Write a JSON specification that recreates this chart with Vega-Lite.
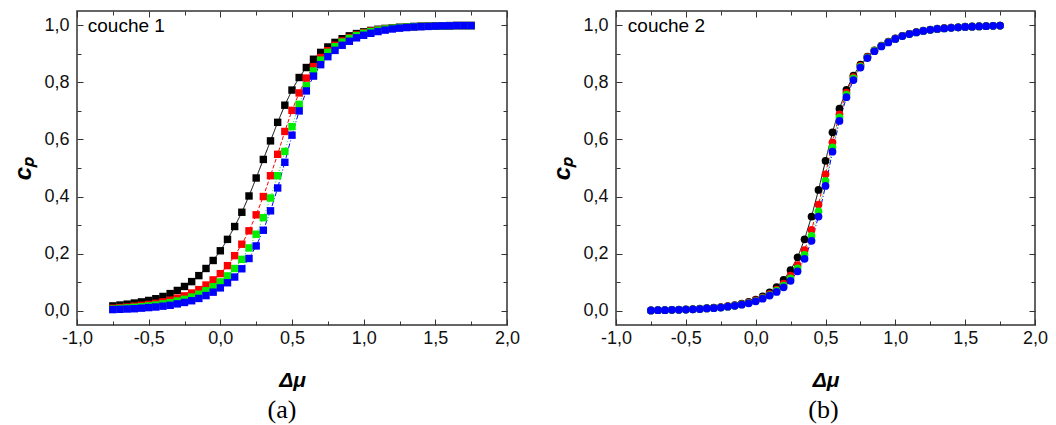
{
  "$schema": "https://vega.github.io/schema/vega-lite/v6.json",
  "background": "white",
  "padding": {"left": 11, "top": 9, "right": 5, "bottom": 0},
  "spacing": 29,
  "config": {
    "view": {"stroke": "#333333", "strokeWidth": 1.5},
    "axis": {"grid": false, "domain": false, "tickColor": "#333333", "tickWidth": 1, "labelFont": "Liberation Sans, Arial, sans-serif", "labelFontSize": 18, "labelColor": "#111111", "labelFlush": false, "labelOverlap": false, "titleColor": "#000000"}
  },
  "data": {"values": [
{"p":"a","s":"k","x":-0.75,"y":0.017},{"p":"a","s":"k","x":-0.7,"y":0.020},{"p":"a","s":"k","x":-0.65,"y":0.023},{"p":"a","s":"k","x":-0.6,"y":0.027},{"p":"a","s":"k","x":-0.55,"y":0.031},{"p":"a","s":"k","x":-0.5,"y":0.036},{"p":"a","s":"k","x":-0.45,"y":0.042},{"p":"a","s":"k","x":-0.4,"y":0.050},{"p":"a","s":"k","x":-0.35,"y":0.060},{"p":"a","s":"k","x":-0.3,"y":0.071},{"p":"a","s":"k","x":-0.25,"y":0.085},{"p":"a","s":"k","x":-0.2,"y":0.102},{"p":"a","s":"k","x":-0.15,"y":0.123},{"p":"a","s":"k","x":-0.1,"y":0.148},{"p":"a","s":"k","x":-0.05,"y":0.176},{"p":"a","s":"k","x":0,"y":0.210},{"p":"a","s":"k","x":0.05,"y":0.250},{"p":"a","s":"k","x":0.1,"y":0.295},{"p":"a","s":"k","x":0.15,"y":0.345},{"p":"a","s":"k","x":0.2,"y":0.402},{"p":"a","s":"k","x":0.25,"y":0.465},{"p":"a","s":"k","x":0.3,"y":0.530},{"p":"a","s":"k","x":0.35,"y":0.595},{"p":"a","s":"k","x":0.4,"y":0.660},{"p":"a","s":"k","x":0.45,"y":0.720},{"p":"a","s":"k","x":0.5,"y":0.773},{"p":"a","s":"k","x":0.55,"y":0.817},{"p":"a","s":"k","x":0.6,"y":0.852},{"p":"a","s":"k","x":0.65,"y":0.881},{"p":"a","s":"k","x":0.7,"y":0.905},{"p":"a","s":"k","x":0.75,"y":0.924},{"p":"a","s":"k","x":0.8,"y":0.940},{"p":"a","s":"k","x":0.85,"y":0.953},{"p":"a","s":"k","x":0.9,"y":0.963},{"p":"a","s":"k","x":0.95,"y":0.971},{"p":"a","s":"k","x":1,"y":0.977},{"p":"a","s":"k","x":1.05,"y":0.982},{"p":"a","s":"k","x":1.1,"y":0.986},{"p":"a","s":"k","x":1.15,"y":0.989},{"p":"a","s":"k","x":1.2,"y":0.991},{"p":"a","s":"k","x":1.25,"y":0.993},{"p":"a","s":"k","x":1.3,"y":0.995},{"p":"a","s":"k","x":1.35,"y":0.996},{"p":"a","s":"k","x":1.4,"y":0.997},{"p":"a","s":"k","x":1.45,"y":0.997},{"p":"a","s":"k","x":1.5,"y":0.998},{"p":"a","s":"k","x":1.55,"y":0.998},{"p":"a","s":"k","x":1.6,"y":0.999},{"p":"a","s":"k","x":1.65,"y":0.999},{"p":"a","s":"k","x":1.7,"y":0.999},{"p":"a","s":"k","x":1.75,"y":0.999},
{"p":"a","s":"r","x":-0.75,"y":0.009},{"p":"a","s":"r","x":-0.7,"y":0.011},{"p":"a","s":"r","x":-0.65,"y":0.013},{"p":"a","s":"r","x":-0.6,"y":0.016},{"p":"a","s":"r","x":-0.55,"y":0.019},{"p":"a","s":"r","x":-0.5,"y":0.022},{"p":"a","s":"r","x":-0.45,"y":0.026},{"p":"a","s":"r","x":-0.4,"y":0.031},{"p":"a","s":"r","x":-0.35,"y":0.037},{"p":"a","s":"r","x":-0.3,"y":0.044},{"p":"a","s":"r","x":-0.25,"y":0.052},{"p":"a","s":"r","x":-0.2,"y":0.062},{"p":"a","s":"r","x":-0.15,"y":0.074},{"p":"a","s":"r","x":-0.1,"y":0.090},{"p":"a","s":"r","x":-0.05,"y":0.108},{"p":"a","s":"r","x":0,"y":0.130},{"p":"a","s":"r","x":0.05,"y":0.158},{"p":"a","s":"r","x":0.1,"y":0.193},{"p":"a","s":"r","x":0.15,"y":0.233},{"p":"a","s":"r","x":0.2,"y":0.280},{"p":"a","s":"r","x":0.25,"y":0.336},{"p":"a","s":"r","x":0.3,"y":0.400},{"p":"a","s":"r","x":0.35,"y":0.473},{"p":"a","s":"r","x":0.4,"y":0.548},{"p":"a","s":"r","x":0.45,"y":0.628},{"p":"a","s":"r","x":0.5,"y":0.702},{"p":"a","s":"r","x":0.55,"y":0.763},{"p":"a","s":"r","x":0.6,"y":0.815},{"p":"a","s":"r","x":0.65,"y":0.855},{"p":"a","s":"r","x":0.7,"y":0.887},{"p":"a","s":"r","x":0.75,"y":0.911},{"p":"a","s":"r","x":0.8,"y":0.930},{"p":"a","s":"r","x":0.85,"y":0.945},{"p":"a","s":"r","x":0.9,"y":0.957},{"p":"a","s":"r","x":0.95,"y":0.966},{"p":"a","s":"r","x":1,"y":0.974},{"p":"a","s":"r","x":1.05,"y":0.980},{"p":"a","s":"r","x":1.1,"y":0.984},{"p":"a","s":"r","x":1.15,"y":0.988},{"p":"a","s":"r","x":1.2,"y":0.990},{"p":"a","s":"r","x":1.25,"y":0.992},{"p":"a","s":"r","x":1.3,"y":0.994},{"p":"a","s":"r","x":1.35,"y":0.995},{"p":"a","s":"r","x":1.4,"y":0.996},{"p":"a","s":"r","x":1.45,"y":0.997},{"p":"a","s":"r","x":1.5,"y":0.998},{"p":"a","s":"r","x":1.55,"y":0.998},{"p":"a","s":"r","x":1.6,"y":0.998},{"p":"a","s":"r","x":1.65,"y":0.999},{"p":"a","s":"r","x":1.7,"y":0.999},{"p":"a","s":"r","x":1.75,"y":0.999},
{"p":"a","s":"g","x":-0.75,"y":0.006},{"p":"a","s":"g","x":-0.7,"y":0.008},{"p":"a","s":"g","x":-0.65,"y":0.010},{"p":"a","s":"g","x":-0.6,"y":0.012},{"p":"a","s":"g","x":-0.55,"y":0.014},{"p":"a","s":"g","x":-0.5,"y":0.017},{"p":"a","s":"g","x":-0.45,"y":0.020},{"p":"a","s":"g","x":-0.4,"y":0.024},{"p":"a","s":"g","x":-0.35,"y":0.028},{"p":"a","s":"g","x":-0.3,"y":0.034},{"p":"a","s":"g","x":-0.25,"y":0.040},{"p":"a","s":"g","x":-0.2,"y":0.048},{"p":"a","s":"g","x":-0.15,"y":0.058},{"p":"a","s":"g","x":-0.1,"y":0.070},{"p":"a","s":"g","x":-0.05,"y":0.084},{"p":"a","s":"g","x":0,"y":0.101},{"p":"a","s":"g","x":0.05,"y":0.122},{"p":"a","s":"g","x":0.1,"y":0.148},{"p":"a","s":"g","x":0.15,"y":0.180},{"p":"a","s":"g","x":0.2,"y":0.220},{"p":"a","s":"g","x":0.25,"y":0.268},{"p":"a","s":"g","x":0.3,"y":0.326},{"p":"a","s":"g","x":0.35,"y":0.395},{"p":"a","s":"g","x":0.4,"y":0.473},{"p":"a","s":"g","x":0.45,"y":0.558},{"p":"a","s":"g","x":0.5,"y":0.645},{"p":"a","s":"g","x":0.55,"y":0.723},{"p":"a","s":"g","x":0.6,"y":0.788},{"p":"a","s":"g","x":0.65,"y":0.840},{"p":"a","s":"g","x":0.7,"y":0.878},{"p":"a","s":"g","x":0.75,"y":0.905},{"p":"a","s":"g","x":0.8,"y":0.925},{"p":"a","s":"g","x":0.85,"y":0.941},{"p":"a","s":"g","x":0.9,"y":0.954},{"p":"a","s":"g","x":0.95,"y":0.964},{"p":"a","s":"g","x":1,"y":0.972},{"p":"a","s":"g","x":1.05,"y":0.978},{"p":"a","s":"g","x":1.1,"y":0.983},{"p":"a","s":"g","x":1.15,"y":0.987},{"p":"a","s":"g","x":1.2,"y":0.990},{"p":"a","s":"g","x":1.25,"y":0.992},{"p":"a","s":"g","x":1.3,"y":0.994},{"p":"a","s":"g","x":1.35,"y":0.995},{"p":"a","s":"g","x":1.4,"y":0.996},{"p":"a","s":"g","x":1.45,"y":0.997},{"p":"a","s":"g","x":1.5,"y":0.997},{"p":"a","s":"g","x":1.55,"y":0.998},{"p":"a","s":"g","x":1.6,"y":0.998},{"p":"a","s":"g","x":1.65,"y":0.999},{"p":"a","s":"g","x":1.7,"y":0.999},{"p":"a","s":"g","x":1.75,"y":0.999},
{"p":"a","s":"b","x":-0.75,"y":0.004},{"p":"a","s":"b","x":-0.7,"y":0.005},{"p":"a","s":"b","x":-0.65,"y":0.006},{"p":"a","s":"b","x":-0.6,"y":0.007},{"p":"a","s":"b","x":-0.55,"y":0.009},{"p":"a","s":"b","x":-0.5,"y":0.011},{"p":"a","s":"b","x":-0.45,"y":0.013},{"p":"a","s":"b","x":-0.4,"y":0.016},{"p":"a","s":"b","x":-0.35,"y":0.019},{"p":"a","s":"b","x":-0.3,"y":0.024},{"p":"a","s":"b","x":-0.25,"y":0.029},{"p":"a","s":"b","x":-0.2,"y":0.035},{"p":"a","s":"b","x":-0.15,"y":0.043},{"p":"a","s":"b","x":-0.1,"y":0.053},{"p":"a","s":"b","x":-0.05,"y":0.065},{"p":"a","s":"b","x":0,"y":0.080},{"p":"a","s":"b","x":0.05,"y":0.098},{"p":"a","s":"b","x":0.1,"y":0.118},{"p":"a","s":"b","x":0.15,"y":0.147},{"p":"a","s":"b","x":0.2,"y":0.183},{"p":"a","s":"b","x":0.25,"y":0.227},{"p":"a","s":"b","x":0.3,"y":0.282},{"p":"a","s":"b","x":0.35,"y":0.350},{"p":"a","s":"b","x":0.4,"y":0.430},{"p":"a","s":"b","x":0.45,"y":0.520},{"p":"a","s":"b","x":0.5,"y":0.615},{"p":"a","s":"b","x":0.55,"y":0.700},{"p":"a","s":"b","x":0.6,"y":0.770},{"p":"a","s":"b","x":0.65,"y":0.822},{"p":"a","s":"b","x":0.7,"y":0.862},{"p":"a","s":"b","x":0.75,"y":0.890},{"p":"a","s":"b","x":0.8,"y":0.912},{"p":"a","s":"b","x":0.85,"y":0.930},{"p":"a","s":"b","x":0.9,"y":0.944},{"p":"a","s":"b","x":0.95,"y":0.956},{"p":"a","s":"b","x":1,"y":0.965},{"p":"a","s":"b","x":1.05,"y":0.972},{"p":"a","s":"b","x":1.1,"y":0.978},{"p":"a","s":"b","x":1.15,"y":0.983},{"p":"a","s":"b","x":1.2,"y":0.987},{"p":"a","s":"b","x":1.25,"y":0.990},{"p":"a","s":"b","x":1.3,"y":0.992},{"p":"a","s":"b","x":1.35,"y":0.994},{"p":"a","s":"b","x":1.4,"y":0.995},{"p":"a","s":"b","x":1.45,"y":0.996},{"p":"a","s":"b","x":1.5,"y":0.997},{"p":"a","s":"b","x":1.55,"y":0.998},{"p":"a","s":"b","x":1.6,"y":0.998},{"p":"a","s":"b","x":1.65,"y":0.999},{"p":"a","s":"b","x":1.7,"y":0.999},{"p":"a","s":"b","x":1.75,"y":0.999},
{"p":"b","s":"k","x":-0.75,"y":0.001},{"p":"b","s":"k","x":-0.7,"y":0.002},{"p":"b","s":"k","x":-0.65,"y":0.002},{"p":"b","s":"k","x":-0.6,"y":0.003},{"p":"b","s":"k","x":-0.55,"y":0.004},{"p":"b","s":"k","x":-0.5,"y":0.005},{"p":"b","s":"k","x":-0.45,"y":0.006},{"p":"b","s":"k","x":-0.4,"y":0.007},{"p":"b","s":"k","x":-0.35,"y":0.009},{"p":"b","s":"k","x":-0.3,"y":0.011},{"p":"b","s":"k","x":-0.25,"y":0.013},{"p":"b","s":"k","x":-0.2,"y":0.016},{"p":"b","s":"k","x":-0.15,"y":0.020},{"p":"b","s":"k","x":-0.1,"y":0.025},{"p":"b","s":"k","x":-0.05,"y":0.031},{"p":"b","s":"k","x":0,"y":0.039},{"p":"b","s":"k","x":0.05,"y":0.050},{"p":"b","s":"k","x":0.1,"y":0.064},{"p":"b","s":"k","x":0.15,"y":0.083},{"p":"b","s":"k","x":0.2,"y":0.108},{"p":"b","s":"k","x":0.25,"y":0.142},{"p":"b","s":"k","x":0.3,"y":0.187},{"p":"b","s":"k","x":0.35,"y":0.250},{"p":"b","s":"k","x":0.4,"y":0.330},{"p":"b","s":"k","x":0.45,"y":0.423},{"p":"b","s":"k","x":0.5,"y":0.525},{"p":"b","s":"k","x":0.55,"y":0.625},{"p":"b","s":"k","x":0.6,"y":0.708},{"p":"b","s":"k","x":0.65,"y":0.774},{"p":"b","s":"k","x":0.7,"y":0.824},{"p":"b","s":"k","x":0.75,"y":0.862},{"p":"b","s":"k","x":0.8,"y":0.890},{"p":"b","s":"k","x":0.85,"y":0.912},{"p":"b","s":"k","x":0.9,"y":0.929},{"p":"b","s":"k","x":0.95,"y":0.943},{"p":"b","s":"k","x":1,"y":0.954},{"p":"b","s":"k","x":1.05,"y":0.963},{"p":"b","s":"k","x":1.1,"y":0.970},{"p":"b","s":"k","x":1.15,"y":0.976},{"p":"b","s":"k","x":1.2,"y":0.981},{"p":"b","s":"k","x":1.25,"y":0.985},{"p":"b","s":"k","x":1.3,"y":0.988},{"p":"b","s":"k","x":1.35,"y":0.990},{"p":"b","s":"k","x":1.4,"y":0.992},{"p":"b","s":"k","x":1.45,"y":0.993},{"p":"b","s":"k","x":1.5,"y":0.995},{"p":"b","s":"k","x":1.55,"y":0.996},{"p":"b","s":"k","x":1.6,"y":0.997},{"p":"b","s":"k","x":1.65,"y":0.997},{"p":"b","s":"k","x":1.7,"y":0.998},{"p":"b","s":"k","x":1.75,"y":0.999},
{"p":"b","s":"r","x":-0.75,"y":0.001},{"p":"b","s":"r","x":-0.7,"y":0.002},{"p":"b","s":"r","x":-0.65,"y":0.002},{"p":"b","s":"r","x":-0.6,"y":0.003},{"p":"b","s":"r","x":-0.55,"y":0.003},{"p":"b","s":"r","x":-0.5,"y":0.004},{"p":"b","s":"r","x":-0.45,"y":0.005},{"p":"b","s":"r","x":-0.4,"y":0.006},{"p":"b","s":"r","x":-0.35,"y":0.008},{"p":"b","s":"r","x":-0.3,"y":0.010},{"p":"b","s":"r","x":-0.25,"y":0.012},{"p":"b","s":"r","x":-0.2,"y":0.015},{"p":"b","s":"r","x":-0.15,"y":0.018},{"p":"b","s":"r","x":-0.1,"y":0.023},{"p":"b","s":"r","x":-0.05,"y":0.028},{"p":"b","s":"r","x":0,"y":0.036},{"p":"b","s":"r","x":0.05,"y":0.046},{"p":"b","s":"r","x":0.1,"y":0.058},{"p":"b","s":"r","x":0.15,"y":0.074},{"p":"b","s":"r","x":0.2,"y":0.095},{"p":"b","s":"r","x":0.25,"y":0.123},{"p":"b","s":"r","x":0.3,"y":0.160},{"p":"b","s":"r","x":0.35,"y":0.212},{"p":"b","s":"r","x":0.4,"y":0.283},{"p":"b","s":"r","x":0.45,"y":0.372},{"p":"b","s":"r","x":0.5,"y":0.478},{"p":"b","s":"r","x":0.55,"y":0.590},{"p":"b","s":"r","x":0.6,"y":0.688},{"p":"b","s":"r","x":0.65,"y":0.764},{"p":"b","s":"r","x":0.7,"y":0.818},{"p":"b","s":"r","x":0.75,"y":0.858},{"p":"b","s":"r","x":0.8,"y":0.888},{"p":"b","s":"r","x":0.85,"y":0.911},{"p":"b","s":"r","x":0.9,"y":0.928},{"p":"b","s":"r","x":0.95,"y":0.942},{"p":"b","s":"r","x":1,"y":0.953},{"p":"b","s":"r","x":1.05,"y":0.963},{"p":"b","s":"r","x":1.1,"y":0.970},{"p":"b","s":"r","x":1.15,"y":0.976},{"p":"b","s":"r","x":1.2,"y":0.980},{"p":"b","s":"r","x":1.25,"y":0.984},{"p":"b","s":"r","x":1.3,"y":0.987},{"p":"b","s":"r","x":1.35,"y":0.990},{"p":"b","s":"r","x":1.4,"y":0.992},{"p":"b","s":"r","x":1.45,"y":0.993},{"p":"b","s":"r","x":1.5,"y":0.994},{"p":"b","s":"r","x":1.55,"y":0.995},{"p":"b","s":"r","x":1.6,"y":0.996},{"p":"b","s":"r","x":1.65,"y":0.997},{"p":"b","s":"r","x":1.7,"y":0.998},{"p":"b","s":"r","x":1.75,"y":0.999},
{"p":"b","s":"g","x":-0.75,"y":0.001},{"p":"b","s":"g","x":-0.7,"y":0.002},{"p":"b","s":"g","x":-0.65,"y":0.002},{"p":"b","s":"g","x":-0.6,"y":0.003},{"p":"b","s":"g","x":-0.55,"y":0.003},{"p":"b","s":"g","x":-0.5,"y":0.004},{"p":"b","s":"g","x":-0.45,"y":0.005},{"p":"b","s":"g","x":-0.4,"y":0.006},{"p":"b","s":"g","x":-0.35,"y":0.008},{"p":"b","s":"g","x":-0.3,"y":0.009},{"p":"b","s":"g","x":-0.25,"y":0.011},{"p":"b","s":"g","x":-0.2,"y":0.014},{"p":"b","s":"g","x":-0.15,"y":0.017},{"p":"b","s":"g","x":-0.1,"y":0.022},{"p":"b","s":"g","x":-0.05,"y":0.027},{"p":"b","s":"g","x":0,"y":0.034},{"p":"b","s":"g","x":0.05,"y":0.044},{"p":"b","s":"g","x":0.1,"y":0.055},{"p":"b","s":"g","x":0.15,"y":0.070},{"p":"b","s":"g","x":0.2,"y":0.088},{"p":"b","s":"g","x":0.25,"y":0.113},{"p":"b","s":"g","x":0.3,"y":0.148},{"p":"b","s":"g","x":0.35,"y":0.196},{"p":"b","s":"g","x":0.4,"y":0.262},{"p":"b","s":"g","x":0.45,"y":0.348},{"p":"b","s":"g","x":0.5,"y":0.455},{"p":"b","s":"g","x":0.55,"y":0.572},{"p":"b","s":"g","x":0.6,"y":0.677},{"p":"b","s":"g","x":0.65,"y":0.757},{"p":"b","s":"g","x":0.7,"y":0.814},{"p":"b","s":"g","x":0.75,"y":0.855},{"p":"b","s":"g","x":0.8,"y":0.887},{"p":"b","s":"g","x":0.85,"y":0.910},{"p":"b","s":"g","x":0.9,"y":0.927},{"p":"b","s":"g","x":0.95,"y":0.941},{"p":"b","s":"g","x":1,"y":0.952},{"p":"b","s":"g","x":1.05,"y":0.962},{"p":"b","s":"g","x":1.1,"y":0.969},{"p":"b","s":"g","x":1.15,"y":0.975},{"p":"b","s":"g","x":1.2,"y":0.980},{"p":"b","s":"g","x":1.25,"y":0.984},{"p":"b","s":"g","x":1.3,"y":0.987},{"p":"b","s":"g","x":1.35,"y":0.989},{"p":"b","s":"g","x":1.4,"y":0.991},{"p":"b","s":"g","x":1.45,"y":0.993},{"p":"b","s":"g","x":1.5,"y":0.994},{"p":"b","s":"g","x":1.55,"y":0.995},{"p":"b","s":"g","x":1.6,"y":0.996},{"p":"b","s":"g","x":1.65,"y":0.997},{"p":"b","s":"g","x":1.7,"y":0.998},{"p":"b","s":"g","x":1.75,"y":0.999},
{"p":"b","s":"b","x":-0.75,"y":0.001},{"p":"b","s":"b","x":-0.7,"y":0.002},{"p":"b","s":"b","x":-0.65,"y":0.002},{"p":"b","s":"b","x":-0.6,"y":0.003},{"p":"b","s":"b","x":-0.55,"y":0.003},{"p":"b","s":"b","x":-0.5,"y":0.004},{"p":"b","s":"b","x":-0.45,"y":0.005},{"p":"b","s":"b","x":-0.4,"y":0.006},{"p":"b","s":"b","x":-0.35,"y":0.008},{"p":"b","s":"b","x":-0.3,"y":0.009},{"p":"b","s":"b","x":-0.25,"y":0.011},{"p":"b","s":"b","x":-0.2,"y":0.014},{"p":"b","s":"b","x":-0.15,"y":0.017},{"p":"b","s":"b","x":-0.1,"y":0.021},{"p":"b","s":"b","x":-0.05,"y":0.026},{"p":"b","s":"b","x":0,"y":0.033},{"p":"b","s":"b","x":0.05,"y":0.042},{"p":"b","s":"b","x":0.1,"y":0.053},{"p":"b","s":"b","x":0.15,"y":0.066},{"p":"b","s":"b","x":0.2,"y":0.082},{"p":"b","s":"b","x":0.25,"y":0.105},{"p":"b","s":"b","x":0.3,"y":0.138},{"p":"b","s":"b","x":0.35,"y":0.182},{"p":"b","s":"b","x":0.4,"y":0.245},{"p":"b","s":"b","x":0.45,"y":0.330},{"p":"b","s":"b","x":0.5,"y":0.437},{"p":"b","s":"b","x":0.55,"y":0.557},{"p":"b","s":"b","x":0.6,"y":0.665},{"p":"b","s":"b","x":0.65,"y":0.748},{"p":"b","s":"b","x":0.7,"y":0.808},{"p":"b","s":"b","x":0.75,"y":0.852},{"p":"b","s":"b","x":0.8,"y":0.885},{"p":"b","s":"b","x":0.85,"y":0.909},{"p":"b","s":"b","x":0.9,"y":0.926},{"p":"b","s":"b","x":0.95,"y":0.940},{"p":"b","s":"b","x":1,"y":0.952},{"p":"b","s":"b","x":1.05,"y":0.962},{"p":"b","s":"b","x":1.1,"y":0.969},{"p":"b","s":"b","x":1.15,"y":0.975},{"p":"b","s":"b","x":1.2,"y":0.980},{"p":"b","s":"b","x":1.25,"y":0.984},{"p":"b","s":"b","x":1.3,"y":0.987},{"p":"b","s":"b","x":1.35,"y":0.989},{"p":"b","s":"b","x":1.4,"y":0.991},{"p":"b","s":"b","x":1.45,"y":0.993},{"p":"b","s":"b","x":1.5,"y":0.994},{"p":"b","s":"b","x":1.55,"y":0.995},{"p":"b","s":"b","x":1.6,"y":0.996},{"p":"b","s":"b","x":1.65,"y":0.997},{"p":"b","s":"b","x":1.7,"y":0.998},{"p":"b","s":"b","x":1.75,"y":0.999}
  ]},
  "hconcat": [
    {
      "width": 430, "height": 314,
      "title": {"text": "(a)", "orient": "bottom", "frame": "group", "anchor": "middle", "dx": -10, "offset": 7, "font": "Liberation Serif", "fontSize": 26, "fontWeight": "normal", "color": "#000000"},
      "resolve": {"axis": {"x": "independent", "y": "independent"}},
      "layer": [
        {
          "transform": [{"filter": "datum.p == 'a'"}],
          "mark": {"type": "line", "strokeWidth": 1},
          "encoding": {
            "x": {"field": "x", "type": "quantitative", "scale": {"domain": [-1, 2], "nice": false, "zero": false},
              "axis": {"orient": "bottom", "values": [-1, -0.5, 0, 0.5, 1, 1.5, 2], "tickSize": -6, "labelPadding": 10, "labelExpr": "replace(replace(format(datum.value, '.1f'), '.', ','), '\u2212', '-')", "title": "Δμ", "titleFont": "Liberation Sans", "titleFontSize": 21, "titleFontWeight": "bold", "titleFontStyle": "italic", "titlePadding": 22}},
            "y": {"field": "y", "type": "quantitative", "scale": {"domain": [-0.05, 1.05], "nice": false, "zero": false},
              "axis": {"orient": "left", "values": [0, 0.2, 0.4, 0.6, 0.8, 1], "tickSize": -6, "labelPadding": 14, "labelExpr": "replace(format(datum.value, '.1f'), '.', ',')", "title": "cₚ", "titleFont": "Liberation Sans", "titleFontSize": 24, "titleFontWeight": "bold", "titleFontStyle": "italic", "titlePadding": 8}},
            "color": {"field": "s", "type": "nominal", "scale": {"domain": ["k", "r", "g", "b"], "range": ["#000000", "#ff0000", "#00ee00", "#0000ff"]}, "legend": null},
            "strokeDash": {"field": "s", "type": "nominal", "scale": {"domain": ["k", "r", "g", "b"], "range": [[1, 0], [4, 2], [1, 2], [5, 2, 1, 2]]}, "legend": null}
          }
        },
        {
          "transform": [{"filter": "datum.p == 'a'"}],
          "mark": {"type": "square", "size": 55, "opacity": 1},
          "encoding": {
            "x": {"field": "x", "type": "quantitative", "scale": {"domain": [-1, 2], "nice": false, "zero": false},
              "axis": {"orient": "bottom", "values": [-0.75, -0.25, 0.25, 0.75, 1.25, 1.75], "tickSize": -4, "labels": false, "title": null}},
            "y": {"field": "y", "type": "quantitative", "scale": {"domain": [-0.05, 1.05], "nice": false, "zero": false},
              "axis": {"orient": "left", "values": [0.1, 0.3, 0.5, 0.7, 0.9], "tickSize": -4, "labels": false, "title": null}},
            "color": {"field": "s", "type": "nominal", "scale": {"domain": ["k", "r", "g", "b"], "range": ["#000000", "#ff0000", "#00ee00", "#0000ff"]}, "legend": null}
          }
        },
        {
          "data": {"values": [{}]},
          "mark": {"type": "text", "align": "left", "baseline": "alphabetic", "font": "Liberation Sans, Arial, sans-serif", "fontSize": 19, "color": "#000000"},
          "encoding": {
            "x": {"datum": -0.925, "type": "quantitative", "scale": {"domain": [-1, 2], "nice": false, "zero": false},
              "axis": {"orient": "top", "values": [-1, -0.5, 0, 0.5, 1, 1.5, 2], "tickSize": -6, "labels": false, "title": null}},
            "y": {"datum": 0.975, "type": "quantitative", "scale": {"domain": [-0.05, 1.05], "nice": false, "zero": false},
              "axis": {"orient": "right", "values": [0, 0.2, 0.4, 0.6, 0.8, 1], "tickSize": -6, "labels": false, "title": null}},
            "text": {"value": "couche 1"}
          }
        },
        {
          "data": {"values": [{}]},
          "mark": {"type": "text"},
          "encoding": {
            "x": {"datum": 0, "type": "quantitative", "scale": {"domain": [-1, 2], "nice": false, "zero": false},
              "axis": {"orient": "top", "values": [-0.75, -0.25, 0.25, 0.75, 1.25, 1.75], "tickSize": -4, "labels": false, "title": null}},
            "y": {"datum": 0, "type": "quantitative", "scale": {"domain": [-0.05, 1.05], "nice": false, "zero": false},
              "axis": {"orient": "right", "values": [0.1, 0.3, 0.5, 0.7, 0.9], "tickSize": -4, "labels": false, "title": null}},
            "text": {"value": ""}
          }
        }
      ]
    },
    {
      "width": 419, "height": 314,
      "title": {"text": "(b)", "orient": "bottom", "frame": "group", "anchor": "middle", "dx": -2, "offset": 7, "font": "Liberation Serif", "fontSize": 26, "fontWeight": "normal", "color": "#000000"},
      "resolve": {"axis": {"x": "independent", "y": "independent"}},
      "layer": [
        {
          "transform": [{"filter": "datum.p == 'b'"}],
          "mark": {"type": "line", "strokeWidth": 1},
          "encoding": {
            "x": {"field": "x", "type": "quantitative", "scale": {"domain": [-1, 2], "nice": false, "zero": false},
              "axis": {"orient": "bottom", "values": [-1, -0.5, 0, 0.5, 1, 1.5, 2], "tickSize": -6, "labelPadding": 10, "labelExpr": "replace(replace(format(datum.value, '.1f'), '.', ','), '\u2212', '-')", "title": "Δμ", "titleFont": "Liberation Sans", "titleFontSize": 21, "titleFontWeight": "bold", "titleFontStyle": "italic", "titlePadding": 22}},
            "y": {"field": "y", "type": "quantitative", "scale": {"domain": [-0.05, 1.05], "nice": false, "zero": false},
              "axis": {"orient": "left", "values": [0, 0.2, 0.4, 0.6, 0.8, 1], "tickSize": -6, "labelPadding": 14, "labelExpr": "replace(format(datum.value, '.1f'), '.', ',')", "title": "cₚ", "titleFont": "Liberation Sans", "titleFontSize": 24, "titleFontWeight": "bold", "titleFontStyle": "italic", "titlePadding": 8}},
            "color": {"field": "s", "type": "nominal", "scale": {"domain": ["k", "r", "g", "b"], "range": ["#000000", "#ff0000", "#00ee00", "#0000ff"]}, "legend": null},
            "strokeDash": {"field": "s", "type": "nominal", "scale": {"domain": ["k", "r", "g", "b"], "range": [[1, 0], [4, 2], [1, 2], [5, 2, 1, 2]]}, "legend": null}
          }
        },
        {
          "transform": [{"filter": "datum.p == 'b'"}],
          "mark": {"type": "circle", "size": 60, "opacity": 1},
          "encoding": {
            "x": {"field": "x", "type": "quantitative", "scale": {"domain": [-1, 2], "nice": false, "zero": false},
              "axis": {"orient": "bottom", "values": [-0.75, -0.25, 0.25, 0.75, 1.25, 1.75], "tickSize": -4, "labels": false, "title": null}},
            "y": {"field": "y", "type": "quantitative", "scale": {"domain": [-0.05, 1.05], "nice": false, "zero": false},
              "axis": {"orient": "left", "values": [0.1, 0.3, 0.5, 0.7, 0.9], "tickSize": -4, "labels": false, "title": null}},
            "color": {"field": "s", "type": "nominal", "scale": {"domain": ["k", "r", "g", "b"], "range": ["#000000", "#ff0000", "#00ee00", "#0000ff"]}, "legend": null}
          }
        },
        {
          "data": {"values": [{}]},
          "mark": {"type": "text", "align": "left", "baseline": "alphabetic", "font": "Liberation Sans, Arial, sans-serif", "fontSize": 19, "color": "#000000"},
          "encoding": {
            "x": {"datum": -0.915, "type": "quantitative", "scale": {"domain": [-1, 2], "nice": false, "zero": false},
              "axis": {"orient": "top", "values": [-1, -0.5, 0, 0.5, 1, 1.5, 2], "tickSize": -6, "labels": false, "title": null}},
            "y": {"datum": 0.975, "type": "quantitative", "scale": {"domain": [-0.05, 1.05], "nice": false, "zero": false},
              "axis": {"orient": "right", "values": [0, 0.2, 0.4, 0.6, 0.8, 1], "tickSize": -6, "labels": false, "title": null}},
            "text": {"value": "couche 2"}
          }
        },
        {
          "data": {"values": [{}]},
          "mark": {"type": "text"},
          "encoding": {
            "x": {"datum": 0, "type": "quantitative", "scale": {"domain": [-1, 2], "nice": false, "zero": false},
              "axis": {"orient": "top", "values": [-0.75, -0.25, 0.25, 0.75, 1.25, 1.75], "tickSize": -4, "labels": false, "title": null}},
            "y": {"datum": 0, "type": "quantitative", "scale": {"domain": [-0.05, 1.05], "nice": false, "zero": false},
              "axis": {"orient": "right", "values": [0.1, 0.3, 0.5, 0.7, 0.9], "tickSize": -4, "labels": false, "title": null}},
            "text": {"value": ""}
          }
        }
      ]
    }
  ]
}
